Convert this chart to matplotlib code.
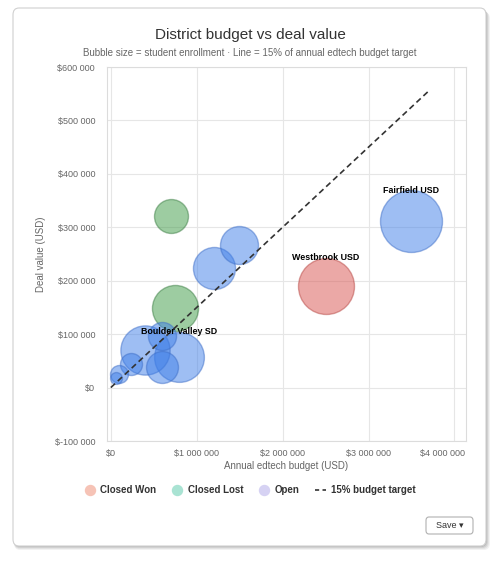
import matplotlib
matplotlib.use("Agg")
import matplotlib.pyplot as plt
import numpy as np
from matplotlib.patches import FancyBboxPatch
from matplotlib.lines import Line2D
from matplotlib.transforms import ScaledTranslation
from matplotlib.ticker import FuncFormatter

plt.rcParams['font.family'] = ['Liberation Sans', 'DejaVu Sans']

# ---- data ----
budget = [3500000, 2500000, 790000, 400000, 745000, 1200000, 1490000, 700000,
          590000, 590000, 240000, 100000, 60000]
deal = [311000, 191000, 58000, 70000, 148000, 223000, 266000, 322000,
        39000, 96000, 45000, 25000, 18000]
enrollment = [38000, 31000, 24500, 24000, 21000, 17500, 14300, 11400,
              10100, 7800, 4800, 3200, 1400]
status = ['Open', 'Closed Won', 'Open', 'Open', 'Closed Lost', 'Open', 'Open',
          'Closed Lost', 'Open', 'Open', 'Open', 'Open', 'Open']
labels = ['Fairfield USD', 'Westbrook USD', 'Boulder Valley SD', '', '', '', '',
          '', '', '', '', '', '']
target_rate = 0.15
target_budget = [0, 3700000]
x_ticks = [0, 1000000, 2000000, 3000000, 4000000]
y_ticks = [-100000, 0, 100000, 200000, 300000, 400000, 500000, 600000]

fill_colors = {'Open': '#3f7fe8', 'Closed Won': '#d9534f', 'Closed Lost': '#3d9a45'}
edge_colors = {'Open': '#3f6fc8', 'Closed Won': '#b84a46', 'Closed Lost': '#3d7f45'}
legend_colors = {'Closed Won': '#f6c3b6', 'Closed Lost': '#a9e3d3', 'Open': '#d6d2f3'}

W, H = 500, 564
fig = plt.figure(figsize=(W / 100, H / 100), dpi=100)
fig.patch.set_facecolor('white')

def fx(px):
    return px / W

def fy(py):
    return 1 - py / H

# card shadow and card
for i, a in enumerate([0.05, 0.06, 0.08, 0.1]):
    off = 4 - i
    sh = FancyBboxPatch((fx(13 + 1), fy(546 + off)), fx(486 - 13 + off - 1), fy(8) - fy(546) ,
                        boxstyle="round,pad=0,rounding_size=0.012", transform=fig.transFigure,
                        facecolor='#000000', edgecolor='none', alpha=a, zorder=0)
    fig.patches.append(sh)
card = FancyBboxPatch((fx(13), fy(546)), fx(486) - fx(13), fy(8) - fy(546),
                      boxstyle="round,pad=0,rounding_size=0.012", transform=fig.transFigure,
                      facecolor='white', edgecolor='#d0d0d0', linewidth=0.8, zorder=1)
fig.patches.append(card)

ax = fig.add_axes([fx(106.7), fy(441), fx(466) - fx(106.7), fy(67) - fy(441)])
ax.set_zorder(2)
ax.set_facecolor('white')

sizes = [e * 0.0524 for e in enrollment]
for b, d, s, st in zip(budget, deal, sizes, status):
    ax.scatter([b], [d], s=s, facecolor=fill_colors[st], edgecolor=edge_colors[st],
               alpha=0.5, linewidth=1.0, zorder=3)

line_y = [target_rate * v for v in target_budget]
ax.plot(target_budget, line_y, linestyle=(0, (3.5, 2.2)), color='#333333', linewidth=1.2, zorder=4)

for b, d, s, lab in zip(budget, deal, sizes, labels):
    if lab:
        r_pt = np.sqrt(s) / 2
        ax.annotate(lab, (b, d), xytext=(0, r_pt), textcoords='offset points',
                    ha='center', va='center', fontsize=6.4, fontweight='bold',
                    color='#000000', zorder=5)

ax.set_xlim(-48000, 4135000)
ax.set_ylim(-100000, 600000)
ax.set_xticks(x_ticks)
ax.set_yticks(y_ticks)
fmt = FuncFormatter(lambda v, p: ("$" + f"{v:,.0f}").replace(',', ' '))
ax.xaxis.set_major_formatter(fmt)
ax.yaxis.set_major_formatter(fmt)
ax.tick_params(axis='both', length=0, labelsize=6.5, labelcolor='#666666')
ax.tick_params(axis='y', pad=8.4)
ax.tick_params(axis='x', pad=5.5)
ax.grid(True, color='#e6e6e6', linewidth=0.8, zorder=0)
ax.set_axisbelow(True)
for sp in ax.spines.values():
    sp.set_color('#dcdcdc')
    sp.set_linewidth(0.8)

xt = ax.xaxis.get_major_ticks()
last = xt[-1].label1
last.set_horizontalalignment('right')
last.set_transform(last.get_transform() + ScaledTranslation(11 / 100, 0, fig.dpi_scale_trans))

ax.set_xlabel('Annual edtech budget (USD)', fontsize=7, color='#666666')
ax.set_ylabel('Deal value (USD)', fontsize=7, color='#666666')
ax.xaxis.set_label_coords(0.5, -(466 - 441) / (441 - 67))
ax.yaxis.set_label_coords((41 - 106.7) / (466 - 106.7), 0.5)
ax.xaxis.label.set_va('center')
ax.yaxis.label.set_va('center')

fig.text(0.5, fy(35), 'District budget vs deal value', ha='center', va='center',
         fontsize=11, color='#333333', zorder=5)
fig.text(0.5, fy(52.5), 'Bubble size = student enrollment \u00b7 Line = 15% of annual edtech budget target',
         ha='center', va='center', fontsize=7, color='#666666', zorder=5)

handles = [Line2D([], [], marker='o', linestyle='none', markersize=7.2,
                  markerfacecolor=legend_colors[k], markeredgecolor=legend_colors[k])
           for k in ['Closed Won', 'Closed Lost', 'Open']]
handles.append(Line2D([], [], linestyle=(0, (2.5, 2)), color='#333333', linewidth=1.2))
leg = fig.legend(handles, ['Closed Won', 'Closed Lost', 'Open', '15% budget target'],
                 loc='center', bbox_to_anchor=(fx(250), fy(490)), ncol=4, frameon=False,
                 handlelength=1.15, handletextpad=0.5, columnspacing=1.6,
                 prop={'size': 7, 'weight': 'bold'})
for t in leg.get_texts():
    t.set_color('#333333')
leg.set_zorder(5)

btn = FancyBboxPatch((fx(426), fy(534)), fx(473) - fx(426), fy(517) - fy(534),
                     boxstyle="round,pad=0,rounding_size=0.006", transform=fig.transFigure,
                     facecolor='white', edgecolor='#b0b0b0', linewidth=0.8, zorder=4)
fig.patches.append(btn)
fig.text(fx(449.5), fy(525.5), 'Save \u25be', ha='center', va='center', fontsize=6.5,
         color='#333333', family=['Liberation Sans', 'DejaVu Sans'], zorder=5)

fig.savefig('out.png', dpi=100, facecolor='white')
